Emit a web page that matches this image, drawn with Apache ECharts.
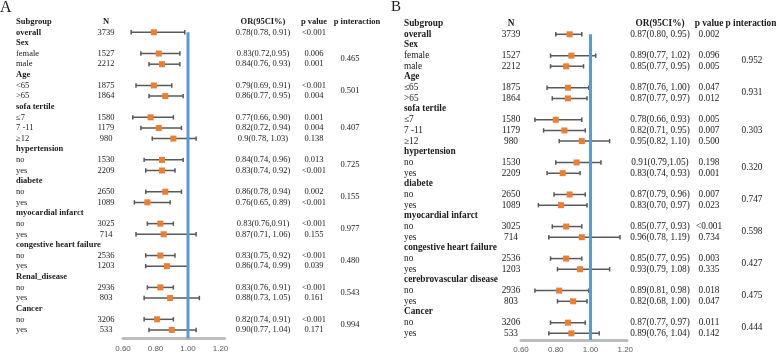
<!DOCTYPE html>
<html>
<head>
<meta charset="utf-8">
<script src="https://cdn.jsdelivr.net/npm/echarts@6/dist/echarts.min.js"></script>
<style>
  html, body { margin: 0; padding: 0; background: #fff; }
  #chart { width: 778px; height: 354px; }
</style>
</head>
<body>
<div id="chart"></div>
<script>
// rows of the two forest tables (same order for both panels)
const subA = ['overall', 'Sex', 'female', 'male', 'Age', '<65', '>65', 'sofa tertile', '≤7', '7 -11', '≥12',
  'hypertension', 'no', 'yes', 'diabete', 'no', 'yes', 'myocardial infarct', 'no', 'yes',
  'congestive heart failure', 'no', 'yes', 'Renal_disease', 'no', 'yes', 'Cancer', 'no', 'yes'];
const subB = ['overall', 'Sex', 'female', 'male', 'Age', '≤65', '>65', 'sofa tertile', '≤7', '7 -11', '≥12',
  'hypertension', 'no', 'yes', 'diabete', 'no', 'yes', 'myocardial infarct', 'no', 'yes',
  'congestive heart failure', 'no', 'yes', 'cerebrovascular disease', 'no', 'yes', 'Cancer', 'no', 'yes'];
const nCounts = ['3739', '', '1527', '2212', '', '1875', '1864', '', '1580', '1179', '980', '', '1530', '2209',
  '', '2650', '1089', '', '3025', '714', '', '2536', '1203', '', '2936', '803', '', '3206', '533'];

// panel A texts
const orTextA = ['0.78(0.78, 0.91)', '', '0.83(0.72,0.95)', '0.84(0.76, 0.93)', '', '0.79(0.69, 0.91)', '0.86(0.77, 0.95)',
  '', '0.77(0.66, 0.90)', '0.82(0.72, 0.94)', '0.9(0.78, 1.03)', '', '0.84(0.74, 0.96)', '0.83(0.74, 0.92)',
  '', '0.86(0.78, 0.94)', '0.76(0.65, 0.89)', '', '0.83(0.76,0.91)', '0.87(0.71, 1.06)',
  '', '0.83(0.75, 0.92)', '0.86(0.74, 0.99)', '', '0.83(0.76, 0.91)', '0.88(0.73, 1.05)',
  '', '0.82(0.74, 0.91)', '0.90(0.77, 1.04)'];
const pTextA = ['<0.001', '', '0.006', '0.001', '', '<0.001', '0.004', '', '0.001', '0.004', '0.138', '', '0.013', '<0.001',
  '', '0.002', '<0.001', '', '<0.001', '0.155', '', '<0.001', '0.039', '', '<0.001', '0.161', '', '<0.001', '0.171'];
const pIntA = ['0.465', '0.501', '0.407', '0.725', '0.155', '0.977', '0.480', '0.543', '0.994'];
// panel A plotted OR and CI (as drawn)
const orA = [0.79, null, 0.82, 0.84, null, 0.79, 0.86, null, 0.77, 0.82, 0.91, null, 0.84, 0.84,
  null, 0.86, 0.75, null, 0.83, 0.85, null, 0.83, 0.87, null, 0.83, 0.89, null, 0.81, 0.90];
const loA = [0.65, null, 0.71, 0.76, null, 0.68, 0.76, null, 0.66, 0.71, 0.78, null, 0.73, 0.74,
  null, 0.74, 0.67, null, 0.75, 0.68, null, 0.74, 0.74, null, 0.75, 0.73, null, 0.73, 0.76];
const hiA = [0.98, null, 0.95, 0.95, null, 0.90, 0.97, null, 0.91, 0.96, 1.05, null, 0.97, 0.92,
  null, 0.96, 0.89, null, 0.91, 1.05, null, 0.92, 1.00, null, 0.91, 1.07, null, 0.91, 1.05];

// panel B texts
const orTextB = ['0.87(0.80, 0.95)', '', '0.89(0.77, 1.02)', '0.85(0.77, 0.95)', '', '0.87(0.76, 1.00)', '0.87(0.77, 0.97)',
  '', '0.78(0.66, 0.93)', '0.82(0.71, 0.95)', '0.95(0.82, 1.10)', '', '0.91(0.79,1.05)', '0.83(0.74, 0.93)',
  '', '0.87(0.79, 0.96)', '0.83(0.70, 0.97)', '', '0.85(0.77, 0.93)', '0.96(0.78, 1.19)',
  '', '0.85(0.77, 0.95)', '0.93(0.79, 1.08)', '', '0.89(0.81, 0.98)', '0.82(0.68, 1.00)',
  '', '0.87(0.77, 0.97)', '0.89(0.76, 1.04)'];
const pTextB = ['0.002', '', '0.096', '0.005', '', '0.047', '0.012', '', '0.005', '0.007', '0.500', '', '0.198', '0.001',
  '', '0.007', '0.023', '', '<0.001', '0.734', '', '0.003', '0.335', '', '0.018', '0.047', '', '0.011', '0.142'];
const pIntB = ['0.952', '0.931', '0.303', '0.320', '0.747', '0.598', '0.427', '0.475', '0.444'];
const orB = [0.88, null, 0.89, 0.86, null, 0.87, 0.87, null, 0.80, 0.85, 0.95, null, 0.92, 0.84,
  null, 0.88, 0.83, null, 0.86, 0.95, null, 0.86, 0.94, null, 0.82, 0.90, null, 0.87, 0.89];
const loB = [0.80, null, 0.77, 0.77, null, 0.75, 0.78, null, 0.68, 0.73, 0.82, null, 0.80, 0.75,
  null, 0.79, 0.70, null, 0.78, 0.76, null, 0.77, 0.81, null, 0.68, 0.81, null, 0.77, 0.76];
const hiB = [0.95, null, 1.03, 0.96, null, 0.99, 0.98, null, 0.95, 0.97, 1.11, null, 1.06, 0.94,
  null, 0.97, 0.98, null, 0.95, 1.17, null, 0.95, 1.11, null, 0.99, 0.98, null, 0.97, 1.05];

const xTicks = { min: 0.6, step: 0.2 };
const header = ['Subgroup', 'N', 'OR(95CI%)', 'p value', 'p interaction'];

// layout of each panel
const panels = [
  { name: 'A', sub: subA, orText: orTextA, pText: pTextA, pInt: pIntA, or: orA, lo: loA, hi: hiA,
    left: 0, width: 385, y0: 32.3, dy: 10.63, yMax: 28.8, plotLeft: 123, unit: 162.5, plotMax: 1.225, font: 8.5,
    cols: { sub: 16, n: 106, or: 263, p: 314, pint: 350, pintHead: 357 } },
  { name: 'B', sub: subB, orText: orTextB, pText: pTextB, pInt: pIntB, or: orB, lo: loB, hi: hiB,
    left: 385, width: 393, y0: 34.3, dy: 10.68, yMax: 28.62, plotLeft: 521, unit: 173.75, plotMax: 1.21, font: 9.3,
    cols: { sub: 19, n: 126, or: 275, p: 324, pint: 367, pintHead: 366 } }
];

const grid = [], xAxis = [], yAxis = [], series = [];

panels.forEach(function (pn, k) {
  const top = pn.y0 - 1.5 * pn.dy;
  const height = (pn.yMax + 1.5) * pn.dy;
  // plot grid
  grid.push({ left: pn.plotLeft, top: top, width: (pn.plotMax - 0.6) * pn.unit, height: height });
  // table grid
  grid.push({ left: pn.left, top: top, width: pn.width, height: height });
  const gp = 2 * k, gt = 2 * k + 1;

  xAxis.push({
    gridIndex: gp, type: 'value', position: 'bottom', min: xTicks.min, max: pn.plotMax, interval: xTicks.step,
    axisLine: { show: true, onZero: false, lineStyle: { color: '#BDBDBD', width: 3 } },
    axisTick: { show: false },
    splitLine: { show: false },
    axisLabel: {
      margin: 6, fontSize: 8, color: '#595959', fontFamily: 'Liberation Sans',
      showMaxLabel: false,
      formatter: function (v) { return v.toFixed(2); }
    }
  });
  xAxis.push({ gridIndex: gt, type: 'value', min: 0, max: pn.width, show: false });
  yAxis.push({ gridIndex: gp, type: 'value', min: -1.5, max: pn.yMax, inverse: true, show: false });
  yAxis.push({ gridIndex: gt, type: 'value', min: -1.5, max: pn.yMax, inverse: true, show: false });

  // error bars
  const bars = [];
  pn.or.forEach(function (v, i) { if (v != null) bars.push([pn.lo[i], i, pn.hi[i]]); });
  series.push({
    type: 'custom', xAxisIndex: gp, yAxisIndex: gp, z: 2, silent: true,
    encode: { x: [0, 2], y: 1 },
    data: bars,
    renderItem: function (params, api) {
      const a = api.coord([api.value(0), api.value(1)]);
      const b = api.coord([api.value(2), api.value(1)]);
      const st = { stroke: '#595959', lineWidth: 1.5 };
      const c = 2.2;
      return {
        type: 'group', children: [
          { type: 'line', shape: { x1: a[0], y1: a[1], x2: b[0], y2: b[1] }, style: st },
          { type: 'line', shape: { x1: a[0], y1: a[1] - c, x2: a[0], y2: a[1] + c }, style: st },
          { type: 'line', shape: { x1: b[0], y1: b[1] - c, x2: b[0], y2: b[1] + c }, style: st }
        ]
      };
    }
  });

  // reference line at OR = 1
  series.push({
    type: 'line', xAxisIndex: gp, yAxisIndex: gp, z: 3, silent: true,
    showSymbol: false, symbol: 'none',
    lineStyle: { color: '#5B9BD5', width: 3 },
    data: [[1, 0], [1, pn.yMax]]
  });

  // point estimates
  const pts = [];
  pn.or.forEach(function (v, i) { if (v != null) pts.push([v, i]); });
  series.push({
    type: 'scatter', xAxisIndex: gp, yAxisIndex: gp, z: 4, silent: true,
    symbol: 'rect', symbolSize: 6,
    itemStyle: { color: '#ED7D31', opacity: 1 },
    data: pts
  });

  // table text
  const texts = [];
  const c = pn.cols;
  texts.push({ x: c.sub, y: -1, t: header[0], al: 'left', b: true });
  texts.push({ x: c.n, y: -1, t: header[1], al: 'center', b: true });
  texts.push({ x: c.or, y: -1, t: header[2], al: 'center', b: true });
  texts.push({ x: c.p, y: -1, t: header[3], al: 'center', b: true });
  texts.push({ x: c.pintHead, y: -1, t: header[4], al: 'center', b: true });
  let group = null;
  const groups = [];
  pn.sub.forEach(function (s, i) {
    const isHead = nCounts[i] === '' || i === 0;
    texts.push({ x: c.sub, y: i, t: s, al: 'left', b: isHead });
    if (nCounts[i]) texts.push({ x: c.n, y: i, t: nCounts[i], al: 'center', b: false });
    if (pn.orText[i]) texts.push({ x: c.or, y: i, t: pn.orText[i], al: 'center', b: false });
    if (pn.pText[i]) texts.push({ x: c.p, y: i, t: pn.pText[i], al: 'center', b: false });
    if (nCounts[i] === '') { group = []; groups.push(group); }
    else if (group) group.push(i);
  });
  groups.forEach(function (g, j) {
    const mid = (g[0] + g[g.length - 1]) / 2;
    texts.push({ x: c.pint, y: mid, t: pn.pInt[j], al: 'center', b: false });
  });
  series.push({
    type: 'custom', xAxisIndex: gt, yAxisIndex: gt, z: 5, silent: true,
    data: texts.map(function (d) { return [d.x, d.y]; }),
    renderItem: function (params, api) {
      const d = texts[params.dataIndex];
      const p = api.coord([api.value(0), api.value(1)]);
      return {
        type: 'text', x: p[0], y: p[1],
        style: {
          text: d.t, align: d.al, verticalAlign: 'middle', fill: '#1a1a1a',
          font: (d.b ? 'bold ' : '') + pn.font + 'px "Liberation Serif"'
        }
      };
    }
  });
});

const chart = echarts.init(document.getElementById('chart'));
chart.setOption({
  animation: false,
  backgroundColor: '#ffffff',
  title: [
    { text: 'A', left: 0, top: 0, padding: 0,
      textStyle: { fontFamily: 'Liberation Serif', fontWeight: 'normal', fontSize: 16, color: '#1a1a1a' } },
    { text: 'B', left: 391, top: 0, padding: 0,
      textStyle: { fontFamily: 'Liberation Serif', fontWeight: 'normal', fontSize: 15, color: '#1a1a1a' } }
  ],
  grid: grid,
  xAxis: xAxis,
  yAxis: yAxis,
  series: series
});
</script>
</body>
</html>
